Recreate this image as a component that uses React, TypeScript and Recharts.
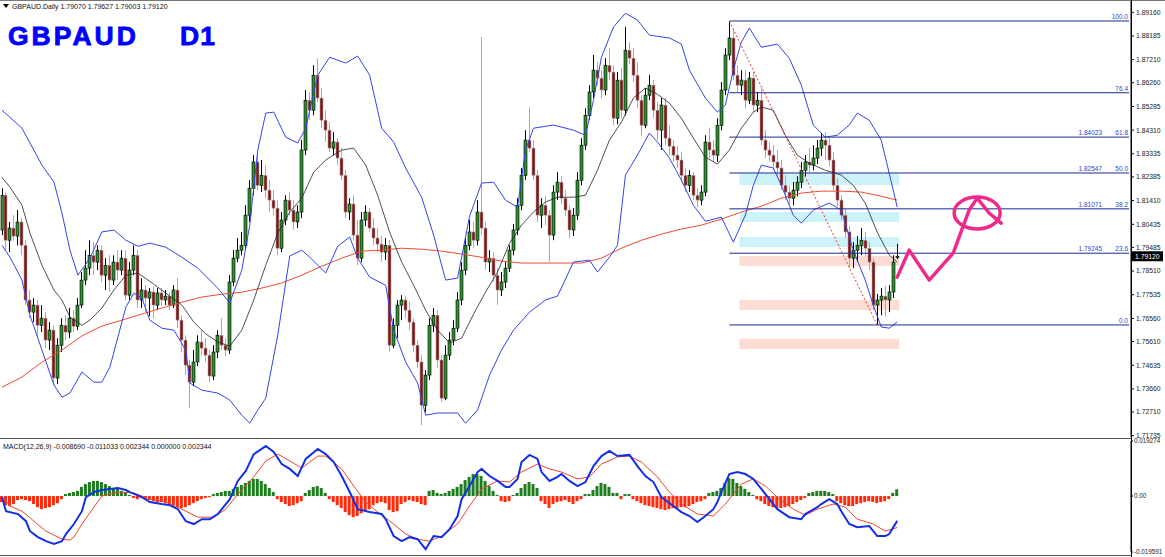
import React from "react";
import {
  ComposedChart,
  Bar,
  Line,
  XAxis,
  YAxis,
  Cell,
  ReferenceLine,
  ReferenceArea,
  ReferenceDot,
} from "recharts";

const FONT = "'Liberation Sans', Arial, sans-serif";

// daily candles, oldest first
const opens = [
  1.8020, 1.8163, 1.7978, 1.8028, 1.7995, 1.8053, 1.7957, 1.7732, 1.7682, 1.7711,
  1.7628, 1.7657, 1.7567, 1.7608, 1.7411, 1.7546, 1.7628, 1.7600, 1.7657, 1.7624,
  1.7711, 1.7814, 1.7863, 1.7916, 1.7888, 1.7937, 1.7834, 1.7875, 1.7814, 1.7888,
  1.7855, 1.7904, 1.7752, 1.7855, 1.7916, 1.7732, 1.7773, 1.7740, 1.7765, 1.7711,
  1.7761, 1.7732, 1.7748, 1.7711, 1.7773, 1.7649, 1.7567, 1.7464, 1.7394, 1.7477,
  1.7559, 1.7534, 1.7505, 1.7419, 1.7518, 1.7587, 1.7546, 1.7526, 1.7806, 1.7904,
  1.7937, 1.7957, 1.8081, 1.8192, 1.8300, 1.8204, 1.8245, 1.8184, 1.8143, 1.8110,
  1.7945, 1.8061, 1.8143, 1.8102, 1.8053, 1.8094, 1.8349, 1.8554, 1.8513, 1.8657,
  1.8563, 1.8472, 1.8431, 1.8357, 1.8382, 1.8316, 1.8245, 1.8094, 1.8127, 1.7999,
  1.7904, 1.8061, 1.8094, 1.8028, 1.7987, 1.7962, 1.7929, 1.7957, 1.7546, 1.7628,
  1.7711, 1.7732, 1.7690, 1.7641, 1.7546, 1.7477, 1.7299, 1.7423, 1.7628, 1.7669,
  1.7485, 1.7328, 1.7505, 1.7567, 1.7616, 1.7732, 1.7855, 1.7957, 1.8012, 1.7978,
  1.8094, 1.8028, 1.7888, 1.7904, 1.7834, 1.7773, 1.7806, 1.7863, 1.7937, 1.8020,
  1.8122, 1.8245, 1.8390, 1.8357, 1.8245, 1.8081, 1.8122, 1.8081, 1.7999, 1.8176,
  1.8217, 1.8151, 1.8102, 1.8020, 1.8081, 1.8225, 1.8369, 1.8492, 1.8588, 1.8678,
  1.8645, 1.8596, 1.8698, 1.8670, 1.8480, 1.8637, 1.8513, 1.8760, 1.8727, 1.8657,
  1.8554, 1.8451, 1.8575, 1.8616, 1.8513, 1.8431, 1.8534, 1.8398, 1.8365, 1.8328,
  1.8308, 1.8245, 1.8204, 1.8245, 1.8163, 1.8143, 1.8176, 1.8382, 1.8349, 1.8328,
  1.8451, 1.8596, 1.8740, 1.8810, 1.8657, 1.8616, 1.8637, 1.8554, 1.8645, 1.8534,
  1.8554, 1.8390, 1.8349, 1.8328, 1.8300, 1.8275, 1.8204, 1.8176, 1.8151, 1.8184,
  1.8217, 1.8266, 1.8300, 1.8287, 1.8316, 1.8357, 1.8390, 1.8369, 1.8308, 1.8204,
  1.8143, 1.8081, 1.8012, 1.7904, 1.7937, 1.7957, 1.7978, 1.7945, 1.7888, 1.7711,
  1.7732, 1.7748, 1.7732, 1.7765, 1.7907,
];
const highs = [
  1.8192, 1.8175, 1.8053, 1.8081, 1.8102, 1.8069, 1.7978, 1.7773, 1.7740, 1.7732,
  1.7711, 1.7682, 1.7641, 1.7628, 1.7575, 1.7657, 1.7669, 1.7699, 1.7690, 1.7740,
  1.7847, 1.7937, 1.7978, 1.7970, 1.7957, 1.7957, 1.7904, 1.7916, 1.7916, 1.7937,
  1.7937, 1.7937, 1.7888, 1.7957, 1.7937, 1.7822, 1.7793, 1.7781, 1.7789, 1.7781,
  1.7781, 1.7773, 1.7765, 1.7793, 1.7822, 1.7669, 1.7587, 1.7485, 1.7526, 1.7587,
  1.7608, 1.7575, 1.7526, 1.7546, 1.7608, 1.7657, 1.7575, 1.7834, 1.7937, 1.7987,
  1.8012, 1.8122, 1.8225, 1.8328, 1.8341, 1.8308, 1.8287, 1.8225, 1.8184, 1.8143,
  1.8094, 1.8163, 1.8176, 1.8143, 1.8122, 1.8390, 1.8596, 1.8588, 1.8698, 1.8727,
  1.8604, 1.8513, 1.8464, 1.8423, 1.8398, 1.8357, 1.8266, 1.8151, 1.8163, 1.8061,
  1.8094, 1.8122, 1.8110, 1.8069, 1.8028, 1.7995, 1.7987, 1.7978, 1.7657, 1.7732,
  1.7752, 1.7748, 1.7724, 1.7657, 1.7567, 1.7505, 1.7444, 1.7657, 1.7699, 1.7690,
  1.7505, 1.7546, 1.7600, 1.7649, 1.7765, 1.7888, 1.7987, 1.8061, 1.8053, 1.8143,
  1.8814, 1.8053, 1.7937, 1.7929, 1.7863, 1.7847, 1.7888, 1.7957, 1.8045, 1.8151,
  1.8275, 1.8431, 1.8525, 1.8390, 1.8266, 1.8151, 1.8159, 1.8102, 1.8204, 1.8258,
  1.8241, 1.8184, 1.8122, 1.8110, 1.8258, 1.8398, 1.8521, 1.8616, 1.8740, 1.8711,
  1.8678, 1.8727, 1.8768, 1.8698, 1.8670, 1.8686, 1.8855, 1.8793, 1.8768, 1.8711,
  1.8575, 1.8604, 1.8657, 1.8637, 1.8546, 1.8563, 1.8563, 1.8451, 1.8390, 1.8365,
  1.8341, 1.8275, 1.8266, 1.8258, 1.8192, 1.8204, 1.8410, 1.8439, 1.8390, 1.8480,
  1.8629, 1.8768, 1.8880, 1.8843, 1.8698, 1.8678, 1.8678, 1.8670, 1.8670, 1.8588,
  1.8604, 1.8431, 1.8382, 1.8369, 1.8349, 1.8308, 1.8245, 1.8204, 1.8217, 1.8241,
  1.8300, 1.8328, 1.8357, 1.8369, 1.8390, 1.8419, 1.8423, 1.8398, 1.8341, 1.8233,
  1.8163, 1.8110, 1.8036, 1.7970, 1.7995, 1.8028, 1.8012, 1.7970, 1.7904, 1.7757,
  1.7781, 1.7789, 1.7793, 1.7916, 1.7963,
];
const lows = [
  1.7999, 1.7937, 1.7929, 1.7978, 1.7957, 1.7916, 1.7711, 1.7657, 1.7641, 1.7587,
  1.7600, 1.7534, 1.7526, 1.7381, 1.7386, 1.7518, 1.7567, 1.7575, 1.7600, 1.7608,
  1.7699, 1.7793, 1.7834, 1.7834, 1.7855, 1.7806, 1.7773, 1.7765, 1.7793, 1.7814,
  1.7834, 1.7732, 1.7732, 1.7834, 1.7699, 1.7699, 1.7682, 1.7665, 1.7657, 1.7690,
  1.7707, 1.7711, 1.7690, 1.7699, 1.7616, 1.7518, 1.7423, 1.7287, 1.7377, 1.7460,
  1.7505, 1.7477, 1.7394, 1.7402, 1.7493, 1.7526, 1.7501, 1.7510, 1.7789, 1.7888,
  1.7916, 1.7937, 1.8053, 1.8163, 1.8184, 1.8176, 1.8151, 1.8094, 1.8081, 1.7916,
  1.7929, 1.8040, 1.8081, 1.8020, 1.8028, 1.8069, 1.8328, 1.8472, 1.8492, 1.8546,
  1.8439, 1.8382, 1.8341, 1.8328, 1.8287, 1.8225, 1.8069, 1.8061, 1.7978, 1.7875,
  1.7888, 1.8036, 1.8012, 1.7957, 1.7929, 1.7888, 1.7896, 1.7518, 1.7534, 1.7575,
  1.7649, 1.7657, 1.7608, 1.7518, 1.7452, 1.7217, 1.7271, 1.7402, 1.7600, 1.7452,
  1.7312, 1.7320, 1.7485, 1.7546, 1.7600, 1.7711, 1.7834, 1.7937, 1.7945, 1.7957,
  1.7999, 1.7855, 1.7847, 1.7806, 1.7711, 1.7748, 1.7781, 1.7847, 1.7916, 1.7999,
  1.8102, 1.8225, 1.8341, 1.8225, 1.8053, 1.8028, 1.8040, 1.7888, 1.7978, 1.8143,
  1.8127, 1.8077, 1.7987, 1.7995, 1.8061, 1.8204, 1.8349, 1.8472, 1.8563, 1.8616,
  1.8563, 1.8575, 1.8637, 1.8451, 1.8455, 1.8480, 1.8492, 1.8703, 1.8629, 1.8521,
  1.8410, 1.8439, 1.8554, 1.8480, 1.8390, 1.8349, 1.8369, 1.8328, 1.8300, 1.8275,
  1.8217, 1.8176, 1.8176, 1.8143, 1.8114, 1.8122, 1.8159, 1.8316, 1.8300, 1.8300,
  1.8431, 1.8575, 1.8719, 1.8637, 1.8588, 1.8575, 1.8521, 1.8538, 1.8505, 1.8505,
  1.8369, 1.8316, 1.8300, 1.8266, 1.8245, 1.8184, 1.8143, 1.8127, 1.8122, 1.8159,
  1.8192, 1.8241, 1.8258, 1.8266, 1.8291, 1.8324, 1.8308, 1.8283, 1.8184, 1.8118,
  1.8061, 1.7987, 1.7863, 1.7863, 1.7888, 1.7916, 1.7912, 1.7855, 1.7690, 1.7629,
  1.7669, 1.7665, 1.7682, 1.7740, 1.7900,
];
const closes = [
  1.8163, 1.7978, 1.8028, 1.7995, 1.8053, 1.7957, 1.7732, 1.7682, 1.7711, 1.7628,
  1.7657, 1.7567, 1.7608, 1.7411, 1.7546, 1.7628, 1.7600, 1.7657, 1.7624, 1.7711,
  1.7814, 1.7863, 1.7916, 1.7888, 1.7937, 1.7834, 1.7875, 1.7814, 1.7888, 1.7855,
  1.7904, 1.7752, 1.7855, 1.7916, 1.7732, 1.7773, 1.7740, 1.7765, 1.7711, 1.7761,
  1.7732, 1.7748, 1.7711, 1.7773, 1.7649, 1.7567, 1.7464, 1.7394, 1.7477, 1.7559,
  1.7534, 1.7505, 1.7419, 1.7518, 1.7587, 1.7546, 1.7526, 1.7806, 1.7904, 1.7937,
  1.7957, 1.8081, 1.8192, 1.8300, 1.8204, 1.8245, 1.8184, 1.8143, 1.8110, 1.7945,
  1.8061, 1.8143, 1.8102, 1.8053, 1.8094, 1.8349, 1.8554, 1.8513, 1.8657, 1.8563,
  1.8472, 1.8431, 1.8357, 1.8382, 1.8316, 1.8245, 1.8094, 1.8127, 1.7999, 1.7904,
  1.8061, 1.8094, 1.8028, 1.7987, 1.7962, 1.7929, 1.7957, 1.7546, 1.7628, 1.7711,
  1.7732, 1.7690, 1.7641, 1.7546, 1.7477, 1.7299, 1.7423, 1.7628, 1.7669, 1.7485,
  1.7328, 1.7505, 1.7567, 1.7616, 1.7732, 1.7855, 1.7957, 1.8012, 1.7978, 1.8094,
  1.8028, 1.7888, 1.7904, 1.7834, 1.7773, 1.7806, 1.7863, 1.7937, 1.8020, 1.8122,
  1.8245, 1.8390, 1.8357, 1.8245, 1.8081, 1.8122, 1.8081, 1.7999, 1.8176, 1.8217,
  1.8151, 1.8102, 1.8020, 1.8081, 1.8225, 1.8369, 1.8492, 1.8588, 1.8678, 1.8645,
  1.8596, 1.8698, 1.8670, 1.8480, 1.8637, 1.8513, 1.8760, 1.8727, 1.8657, 1.8554,
  1.8451, 1.8575, 1.8616, 1.8513, 1.8431, 1.8534, 1.8398, 1.8365, 1.8328, 1.8308,
  1.8245, 1.8204, 1.8245, 1.8163, 1.8143, 1.8176, 1.8382, 1.8349, 1.8328, 1.8451,
  1.8596, 1.8740, 1.8810, 1.8657, 1.8616, 1.8637, 1.8554, 1.8645, 1.8534, 1.8554,
  1.8390, 1.8349, 1.8328, 1.8300, 1.8275, 1.8204, 1.8176, 1.8151, 1.8184, 1.8217,
  1.8266, 1.8300, 1.8287, 1.8316, 1.8357, 1.8390, 1.8369, 1.8308, 1.8204, 1.8143,
  1.8081, 1.8012, 1.7904, 1.7937, 1.7957, 1.7978, 1.7945, 1.7888, 1.7711, 1.7732,
  1.7748, 1.7732, 1.7765, 1.7888, 1.7912,
];

// indicator readings as [bar index, value]
const bbUpper: [number, number][] = [
  [0, 1.8513], [5, 1.8439], [10, 1.8287], [13, 1.8217], [15, 1.809], [17, 1.7937], [19, 1.7834],
  [22, 1.7904], [25, 1.8012], [28, 1.802], [31, 1.7978], [34, 1.7953], [37, 1.7966], [41, 1.7949],
  [45, 1.7908], [49, 1.7863], [54, 1.7781], [57, 1.772], [60, 1.7855], [62, 1.804], [64, 1.8349],
  [66, 1.8501], [68, 1.8505], [71, 1.8402], [74, 1.8378], [76, 1.8439], [79, 1.8657], [82, 1.8731],
  [86, 1.8707], [89, 1.8736], [92, 1.8657], [95, 1.8439], [98, 1.8382], [101, 1.8275], [105, 1.8155],
  [108, 1.7999], [111, 1.7814], [114, 1.7822], [117, 1.8077], [120, 1.8213], [123, 1.8217],
  [126, 1.8143], [129, 1.8114], [131, 1.8349], [133, 1.8439], [138, 1.8452], [143, 1.8431],
  [146, 1.841], [148, 1.8554], [150, 1.8731], [153, 1.8855], [156, 1.8912], [159, 1.8884],
  [162, 1.8822], [167, 1.881], [170, 1.8785], [172, 1.8678], [176, 1.8563], [179, 1.8505],
  [181, 1.8534], [183, 1.8678], [185, 1.8793], [187, 1.8851], [190, 1.8772], [194, 1.8785],
  [197, 1.8727], [200, 1.8616], [203, 1.8452], [206, 1.8402], [209, 1.841], [212, 1.8452],
  [214, 1.8501], [217, 1.8472], [220, 1.839], [222, 1.8254], [224, 1.8114],
];
const bbMiddle: [number, number][] = [
  [0, 1.8237], [2, 1.8196], [5, 1.8122], [7, 1.8007], [10, 1.7875], [13, 1.7773], [15, 1.7732],
  [17, 1.7662], [20, 1.7628], [22, 1.7649], [25, 1.7699], [28, 1.7773], [31, 1.7834], [34, 1.7843],
  [38, 1.7797], [42, 1.7748], [45, 1.7711], [48, 1.7641], [51, 1.7592], [54, 1.7559], [57, 1.7542],
  [60, 1.7608], [63, 1.7732], [66, 1.7875], [69, 1.8007], [72, 1.8094], [75, 1.8151], [78, 1.8258],
  [81, 1.8308], [85, 1.8349], [88, 1.8357], [91, 1.8287], [94, 1.8163], [97, 1.8011], [100, 1.7888],
  [103, 1.7793], [106, 1.769], [109, 1.7608], [112, 1.7555], [115, 1.7575], [118, 1.7674],
  [121, 1.7765], [124, 1.7847], [127, 1.7966], [130, 1.804], [133, 1.8094], [136, 1.8135],
  [139, 1.8155], [143, 1.8155], [146, 1.8163], [149, 1.8266], [152, 1.839], [155, 1.8464],
  [158, 1.8563], [161, 1.8604], [164, 1.8579], [167, 1.8542], [170, 1.848], [173, 1.8398],
  [176, 1.832], [179, 1.8291], [182, 1.8349], [185, 1.8439], [188, 1.8505], [190, 1.8526],
  [193, 1.8513], [196, 1.841], [199, 1.8328], [202, 1.8295], [206, 1.8266], [210, 1.8246],
  [213, 1.8204], [216, 1.8131], [219, 1.8011], [222, 1.7917], [224, 1.7888],
];
const bbLower: [number, number][] = [
  [0, 1.7957], [2, 1.7908], [5, 1.7814], [7, 1.7669], [10, 1.7526], [13, 1.7382], [15, 1.7332],
  [17, 1.7349], [20, 1.7436], [23, 1.7394], [25, 1.7394], [27, 1.7456], [29, 1.7579], [31, 1.7703],
  [33, 1.776], [35, 1.774], [37, 1.7649], [40, 1.7616], [43, 1.7608], [46, 1.7526], [47, 1.739],
  [50, 1.7361], [54, 1.7349], [57, 1.732], [60, 1.7258], [62, 1.7225], [64, 1.7279], [66, 1.7328],
  [69, 1.7587], [72, 1.7913], [75, 1.7937], [77, 1.7908], [81, 1.7843], [84, 1.7953], [87, 1.7991],
  [89, 1.7904], [92, 1.7826], [96, 1.7793], [98, 1.7608], [101, 1.7477], [104, 1.739], [106, 1.7258],
  [109, 1.7267], [114, 1.7267], [116, 1.7225], [119, 1.7279], [122, 1.7423], [125, 1.7526],
  [128, 1.7608], [132, 1.7682], [136, 1.7732], [139, 1.7748], [143, 1.7888], [147, 1.7896],
  [149, 1.7847], [152, 1.7908], [154, 1.7957], [156, 1.8246], [159, 1.8328], [162, 1.8419],
  [164, 1.8382], [167, 1.8316], [170, 1.8225], [173, 1.8122], [176, 1.8056], [180, 1.8073],
  [183, 1.797], [186, 1.8081], [188, 1.8204], [190, 1.8287], [193, 1.8275], [195, 1.8204],
  [198, 1.8081], [200, 1.8048], [203, 1.8102], [207, 1.8131], [210, 1.8102], [213, 1.7937],
  [216, 1.7814], [218, 1.7711], [220, 1.7621], [222, 1.7616], [224, 1.7641],
];
const ma200: [number, number][] = [
  [0, 1.7373], [5, 1.7415], [10, 1.7476], [15, 1.7526], [20, 1.7584], [25, 1.7625], [30, 1.7649],
  [35, 1.7674], [40, 1.7699], [45, 1.7723], [50, 1.7744], [55, 1.7756], [60, 1.7764], [65, 1.7781],
  [70, 1.7802], [75, 1.7834], [80, 1.7871], [85, 1.7904], [90, 1.7933], [95, 1.7937], [100, 1.7945],
  [105, 1.7941], [110, 1.7933], [115, 1.7921], [120, 1.7908], [125, 1.7892], [130, 1.7884],
  [135, 1.7884], [140, 1.7884], [145, 1.7884], [150, 1.7904], [155, 1.7945], [160, 1.7978],
  [165, 1.8003], [170, 1.8024], [175, 1.804], [180, 1.8065], [185, 1.8094], [190, 1.8118],
  [195, 1.8151], [200, 1.8172], [205, 1.818], [210, 1.818], [215, 1.8176], [220, 1.8159], [224, 1.8143],
];

// MACD(12,26,9)
const macdMain: [number, number][] = [
  [0, -0.0004], [1, -0.0053], [4, -0.0063], [6, -0.0088], [7, -0.0123], [9, -0.0144], [11, -0.0158],
  [13, -0.0168], [15, -0.0158], [16, -0.0133], [18, -0.0098], [20, -0.0053], [21, -0.0004],
  [23, 0.0014], [25, 0.0021], [29, 0.0028], [31, 0.0021], [32, 0.0014], [35, -0.0004], [37, -0.0021],
  [40, -0.0028], [42, -0.0032], [44, -0.0046], [46, -0.0088], [48, -0.0098], [50, -0.0081],
  [52, -0.0081], [54, -0.0063], [55, -0.0046], [57, -0.0011], [59, 0.0053], [61, 0.0088],
  [63, 0.0147], [65, 0.0165], [66, 0.0175], [68, 0.0154], [70, 0.0112], [72, 0.0095], [74, 0.007],
  [76, 0.013], [79, 0.0165], [81, 0.0147], [83, 0.0119], [85, 0.007], [87, 0.0014], [89, -0.0046],
  [92, -0.0056], [95, -0.0063], [96, -0.0081], [98, -0.014], [100, -0.0158], [102, -0.0144],
  [104, -0.0151], [106, -0.0186], [108, -0.014], [110, -0.0144], [112, -0.0116], [114, -0.007],
  [115, -0.0011], [117, 0.0035], [119, 0.0084], [120, 0.0095], [122, 0.007], [124, 0.0053],
  [126, 0.0032], [127, 0.0032], [129, 0.006], [130, 0.0119], [132, 0.0144], [134, 0.013],
  [135, 0.0084], [137, 0.0053], [139, 0.0067], [140, 0.0077], [142, 0.0053], [144, 0.0035],
  [146, 0.0049], [148, 0.0105], [150, 0.014], [152, 0.0158], [154, 0.014], [157, 0.0144],
  [159, 0.0105], [161, 0.007], [163, 0.0049], [165, -0.0004], [168, -0.0035], [170, -0.0056],
  [172, -0.007], [174, -0.0091], [176, -0.007], [178, -0.0046], [179, -0.0021], [180, 0.0014],
  [182, 0.0077], [184, 0.0084], [186, 0.0077], [188, 0.006], [190, 0.0025], [192, -0.0011],
  [194, -0.0046], [197, -0.0074], [200, -0.0081], [201, -0.0063], [204, -0.0039], [205, -0.0028],
  [207, -0.0011], [209, -0.0028], [210, -0.0053], [212, -0.0098], [214, -0.0109], [217, -0.0105],
  [219, -0.014], [221, -0.014], [222, -0.0133], [224, -0.00869],
];
const macdSignal: [number, number][] = [
  [0, 0], [2, -0.0035], [5, -0.0053], [8, -0.0088], [11, -0.0123], [15, -0.0151], [17, -0.0154],
  [18, -0.0144], [20, -0.0098], [23, -0.0039], [25, 0], [29, 0.0014], [33, 0.0011], [37, -0.0011],
  [41, -0.0021], [45, -0.0046], [49, -0.0074], [53, -0.0074], [56, -0.0046], [59, 0.0007],
  [63, 0.0067], [66, 0.0123], [69, 0.0147], [72, 0.0123], [75, 0.0098], [79, 0.014], [81, 0.014],
  [85, 0.0095], [88, 0.0035], [91, -0.0021], [94, -0.0056], [98, -0.0098], [101, -0.0133],
  [104, -0.0151], [107, -0.0158], [110, -0.014], [114, -0.0098], [117, -0.0035], [120, 0.0025],
  [124, 0.0053], [127, 0.0049], [130, 0.0084], [134, 0.0112], [137, 0.0095], [140, 0.0084],
  [144, 0.006], [147, 0.0067], [150, 0.0112], [154, 0.0137], [157, 0.014], [160, 0.0119],
  [164, 0.0067], [167, 0.0014], [170, -0.0028], [174, -0.0063], [178, -0.007], [181, -0.0028],
  [185, 0.0042], [188, 0.006], [191, 0.0035], [194, -0.0004], [198, -0.0046], [201, -0.0067],
  [204, -0.0046], [208, -0.0028], [211, -0.0039], [214, -0.0081], [218, -0.0098], [221, -0.0123],
  [224, -0.011033],
];
const macdHist = [
  -0.0021, -0.0032, -0.0035, -0.0028, -0.0014, -0.0011, -0.0014, -0.0018, -0.0028, -0.0039,
  -0.0046, -0.0042, -0.0039, -0.0032, -0.0025, -0.0011, 0.0007, 0.0011, 0.0014, 0.0018,
  0.0032, 0.0042, 0.0049, 0.0053, 0.0053, 0.0049, 0.0042, 0.0035, 0.0028, 0.0025,
  0.0018, 0.0011, 0.0004, -0.0007, -0.0011, -0.0007, -0.0011, -0.0014, -0.0018, -0.0021,
  -0.0021, -0.0025, -0.0028, -0.0032, -0.0039, -0.0042, -0.0039, -0.0032, -0.0025, -0.0018,
  -0.0011, -0.0007, -0.0004, 0.0007, 0.0011, 0.0014, 0.0018, 0.0018, 0.0025, 0.0032,
  0.0039, 0.0046, 0.0053, 0.006, 0.006, 0.0053, 0.0042, 0.0028, 0.0014, -0.0011,
  -0.0021, -0.0028, -0.0035, -0.0032, -0.0025, -0.0018, 0.0011, 0.0021, 0.0032, 0.0035,
  0.0028, 0.0011, -0.0011, -0.0021, -0.0032, -0.0042, -0.0056, -0.0067, -0.0074, -0.007,
  -0.006, -0.0053, -0.0046, -0.0032, -0.0025, -0.0021, -0.0025, -0.0049, -0.0056, -0.0053,
  -0.0028, -0.0021, -0.0014, -0.0018, -0.0021, -0.0028, -0.0032, 0.0018, 0.0021, 0.0011,
  0.0007, 0.0011, 0.0018, 0.0025, 0.0032, 0.0042, 0.0056, 0.0067, 0.0077, 0.0077,
  0.007, 0.0053, 0.0035, 0.0018, 0.0004, -0.0018, -0.0021, -0.0018, 0.0004, 0.0011,
  0.0028, 0.0042, 0.0049, 0.0042, 0.0028, -0.0018, -0.0028, -0.0042, -0.0028, -0.0021,
  -0.0018, -0.0014, -0.0021, -0.0028, -0.0018, -0.0011, 0.0007, 0.0007, 0.0021, 0.0035,
  0.0046, 0.0042, 0.0032, 0.0011, 0.0011, -0.0011, 0.0007, 0.0007, -0.0011, -0.0018,
  -0.0025, -0.0032, -0.0035, -0.0039, -0.0042, -0.0046, -0.0049, -0.0046, -0.0042, -0.0042,
  -0.0039, -0.0039, -0.0035, -0.0028, -0.0021, -0.0018, -0.0011, 0.0011, 0.0014, 0.0018,
  0.0028, 0.0046, 0.0063, 0.006, 0.0046, 0.0035, 0.0025, 0.0014, 0.0004, -0.0011,
  -0.0018, -0.0028, -0.0035, -0.0039, -0.0042, -0.0042, -0.0039, -0.0035, -0.0028, -0.0021,
  -0.0014, -0.0007, 0.0011, 0.0014, 0.0018, 0.0018, 0.0018, 0.0014, 0.0007, -0.0018,
  -0.0025, -0.0032, -0.0035, -0.0035, -0.0028, -0.0025, -0.0021, -0.0018, -0.0021, -0.0025,
  -0.0021, -0.0018, -0.0011, 0.0011, 0.002344,
];

// fibonacci retracement drawn from the top bar to the bottom bar
const fibPct = ["100.0", "76.4", "61.8", "50.0", "38.2", "23.6", "0.0"];
const fibLevels = [1.88801, 1.85849, 1.84023, 1.82547, 1.81071, 1.79245, 1.76293];
const fibPriceText = ["", "", "1.84023", "1.82547", "1.81071", "1.79245", ""];
const fibFrom = 182;
const fibLowBar = 219;

// shaded zones
const zoneLow = [1.8205, 1.8053, 1.795, 1.7872, 1.7691, 1.753];
const zoneHigh = [1.8255, 1.8094, 1.7991, 1.7913, 1.7732, 1.7572];
const zoneKind = ["up", "up", "up", "down", "down", "down"];
const zoneFrom = 185;
const zoneTo = 224;

// hand drawn forecast stroke
const penPath: [number, number][] = [
  [224, 1.7826], [227, 1.7937], [232, 1.7814], [238, 1.7925], [242, 1.8102], [244, 1.8151],
  [247, 1.809], [250, 1.8048],
];
const penCircle = { bar: 244, price: 1.809 };

const priceTicks = [
  1.8916, 1.88185, 1.8721, 1.8626, 1.85285, 1.8431, 1.83335, 1.82385, 1.8141, 1.80435,
  1.79485, 1.7851, 1.77535, 1.7656, 1.7561, 1.74635, 1.7366, 1.7271, 1.71735,
];
const macdTicks = [0.019274, 0, -0.019591];
const lastClose = 1.7912;

const SLOTS = 283;
const rows: any[] = Array.from({ length: SLOTS }, (_, i) => {
  const r: any = { i };
  if (i < closes.length) {
    r.o = opens[i];
    r.h = highs[i];
    r.l = lows[i];
    r.c = closes[i];
    r.hl = [lows[i], highs[i]];
    r.hist = macdHist[i];
  }
  return r;
});
const put = (key: string, pts: [number, number][]) =>
  pts.forEach(([i, v]) => {
    rows[i][key] = v;
  });
put("bbU", bbUpper);
put("bbM", bbMiddle);
put("bbL", bbLower);
put("ma", ma200);
put("macd", macdMain);
put("sig", macdSignal);
put("pen", penPath);

const PINK = "#ee2a8a";

function Candle(props: any) {
  const { x, y, width, height, payload } = props;
  if (!payload || payload.h == null) return <g />;
  const { o, h, l, c } = payload;
  const top = Math.min(y, y + height);
  const span = Math.abs(height);
  const toY = (v: number) => top + (h - l ? ((h - v) / (h - l)) * span : 0);
  const cx = Math.round(x + width / 2) + 0.5;
  const up = c >= o;
  const bTop = toY(Math.max(o, c));
  const bBot = toY(Math.min(o, c));
  const edge = up ? "#000" : "#a9a9a9";
  return (
    <g>
      <line x1={cx} x2={cx} y1={top} y2={top + span} stroke={edge} strokeWidth={1} />
      <rect
        x={cx - 1.5}
        y={bTop}
        width={3}
        height={Math.max(1, bBot - bTop)}
        fill={up ? "#2f8f2f" : "#7e1515"}
        stroke={edge}
        strokeWidth={0.6}
      />
    </g>
  );
}

function FibLabel(props: any) {
  const { viewBox, pct, price } = props;
  if (!viewBox) return null;
  const right = viewBox.x + viewBox.width;
  const y = viewBox.y - 2;
  const st = { fontSize: 6.5, fill: "#3443c4", fontFamily: FONT };
  return (
    <g>
      {price ? (
        <text x={right - 27} y={y} textAnchor="end" {...st}>
          {price}
        </text>
      ) : null}
      <text x={right - 1} y={y} textAnchor="end" {...st}>
        {pct}
      </text>
    </g>
  );
}

function PriceTag(props: any) {
  const { viewBox, text } = props;
  if (!viewBox) return null;
  const x = viewBox.x + viewBox.width + 1;
  return (
    <g>
      <rect x={x} y={viewBox.y - 5} width={31} height={10} fill="#000" />
      <text x={x + 3} y={viewBox.y + 2.5} fontSize={6.8} fill="#fff" fontFamily={FONT}>
        {text}
      </text>
    </g>
  );
}

const tickStyle = { fontSize: 6.8, fill: "#222", fontFamily: FONT };
const macdTickStyle = { fontSize: 6.3, fill: "#222", fontFamily: FONT };

export default function App() {
  return (
    <div
      style={{
        position: "absolute",
        left: 0,
        top: 0,
        width: 1165,
        height: 557,
        background: "#fff",
        overflow: "hidden",
      }}
    >
      <div style={{ position: "absolute", left: 0, top: 0 }}>
        <ComposedChart width={1165} height={438} data={rows} margin={{ top: 1, right: 0, bottom: 1, left: 0 }}>
          <XAxis dataKey="i" type="category" hide />
          <YAxis
            orientation="right"
            width={34}
            domain={[1.71682, 1.89624]}
            allowDataOverflow
            ticks={priceTicks}
            interval={0}
            tickFormatter={(v: number) => v.toFixed(5)}
            tick={tickStyle}
            tickSize={3}
            tickMargin={2}
            stroke="#000"
          />
          {zoneLow.map((lo, k) => (
            <ReferenceArea
              key={"z" + k}
              x1={zoneFrom}
              x2={zoneTo}
              y1={lo}
              y2={zoneHigh[k]}
              fill={zoneKind[k] === "up" ? "#cdf3fa" : "#fcdcd3"}
              fillOpacity={1}
              stroke="none"
            />
          ))}
          <Line dataKey="ma" stroke="#ee4b32" strokeWidth={1} dot={false} connectNulls isAnimationActive={false} />
          <Line dataKey="bbU" stroke="#3344e6" strokeWidth={1} dot={false} connectNulls isAnimationActive={false} />
          <Line dataKey="bbL" stroke="#3344e6" strokeWidth={1} dot={false} connectNulls isAnimationActive={false} />
          <Line dataKey="bbM" stroke="#222" strokeWidth={0.8} dot={false} connectNulls isAnimationActive={false} />
          <Bar dataKey="hl" barSize={3} shape={<Candle />} isAnimationActive={false} />
          {fibLevels.map((lv, k) => (
            <ReferenceLine
              key={"f" + k}
              segment={[
                { x: fibFrom, y: lv },
                { x: SLOTS - 1, y: lv },
              ]}
              stroke="#1b2a8f"
              strokeWidth={1}
              label={<FibLabel pct={fibPct[k]} price={fibPriceText[k]} />}
            />
          ))}
          <ReferenceLine
            segment={[
              { x: fibFrom, y: fibLevels[0] },
              { x: fibLowBar, y: fibLevels[6] },
            ]}
            stroke="#e23a2a"
            strokeDasharray="2 2"
            strokeWidth={1}
          />
          <Line
            dataKey="pen"
            stroke={PINK}
            strokeWidth={3.5}
            strokeLinejoin="round"
            strokeLinecap="round"
            dot={false}
            connectNulls
            isAnimationActive={false}
          />
          <ReferenceDot
            x={penCircle.bar}
            y={penCircle.price}
            r={18}
            shape={(p: any) => (
              <ellipse cx={p.cx} cy={p.cy} rx={23} ry={16} fill="none" stroke={PINK} strokeWidth={3.5} />
            )}
          />
          <ReferenceLine y={lastClose} stroke="none" label={<PriceTag text="1.79120" />} />
        </ComposedChart>
      </div>

      <div style={{ position: "absolute", left: 0, top: 438 }}>
        <ComposedChart width={1165} height={119} data={rows} margin={{ top: 3, right: 0, bottom: 5, left: 0 }}>
          <XAxis dataKey="i" type="category" hide />
          <YAxis
            orientation="right"
            width={34}
            domain={[-0.019591, 0.019274]}
            allowDataOverflow
            ticks={macdTicks}
            interval={0}
            tickFormatter={(v: number) => (v === 0 ? "0.00" : v.toFixed(6))}
            tick={macdTickStyle}
            tickSize={2}
            tickMargin={1}
            stroke="#000"
          />
          <Bar dataKey="hist" barSize={3} isAnimationActive={false}>
            {rows.map((r) => (
              <Cell key={r.i} fill={r.hist >= 0 ? "#1e7d1e" : "#ff2a0a"} />
            ))}
          </Bar>
          <Line dataKey="sig" stroke="#f0442e" strokeWidth={1} dot={false} connectNulls isAnimationActive={false} />
          <Line dataKey="macd" stroke="#1430e6" strokeWidth={2} dot={false} connectNulls isAnimationActive={false} />
        </ComposedChart>
      </div>

      <svg
        width={1165}
        height={557}
        style={{ position: "absolute", left: 0, top: 0, pointerEvents: "none" }}
      >
        <line x1={0} x2={1165} y1={0.5} y2={0.5} stroke="#777" />
        <line x1={0} x2={1131} y1={438.5} y2={438.5} stroke="#555" />
        <line x1={0} x2={1131} y1={555.5} y2={555.5} stroke="#555" />
        <line x1={1131.5} x2={1131.5} y1={0} y2={557} stroke="#000" />
        <path d="M3 4 L9 4 L6 8 Z" fill="#000" />
        <text x={12} y={9} fontSize={7} fill="#111" fontFamily={FONT}>
          GBPAUD.Daily 1.79070 1.79627 1.79003 1.79120
        </text>
        <text
          x={8}
          y={45}
          fontSize={26.5}
          fontWeight="bold"
          fill="#0000ff"
          stroke="#0000ff"
          strokeWidth={0.8}
          letterSpacing={3}
          fontFamily={FONT}
        >
          GBPAUD
        </text>
        <text
          x={180}
          y={45}
          fontSize={26.5}
          fontWeight="bold"
          fill="#0000ff"
          stroke="#0000ff"
          strokeWidth={0.8}
          letterSpacing={1}
          fontFamily={FONT}
        >
          D1
        </text>
        <text x={3} y={449} fontSize={7} fill="#111" fontFamily={FONT}>
          MACD(12,26,9) -0.008690 -0.011033 0.002344 0.000000 0.002344
        </text>
      </svg>
    </div>
  );
}
